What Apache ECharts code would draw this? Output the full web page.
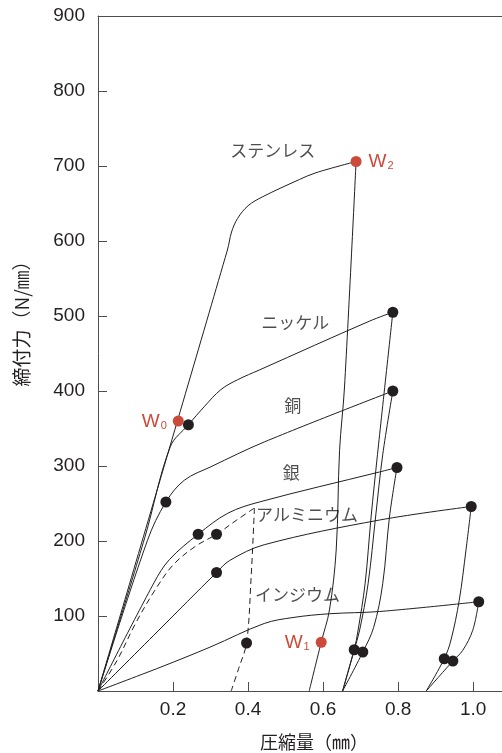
<!DOCTYPE html>
<html>
<head>
<meta charset="utf-8">
<script src="https://cdn.jsdelivr.net/npm/echarts@6/dist/echarts.min.js"></script>
<style>html,body{margin:0;padding:0;background:#fff}#c{width:502px;height:753px}</style>
</head>
<body>
<div id="c"></div>
<script>
// ---- data (x: 圧縮量 mm, y: 締付力 N/mm) ----
const xTicks = [0.2, 0.4, 0.6, 0.8, 1.0];
const yTicks = [100, 200, 300, 400, 500, 600, 700, 800, 900];

const stainlessLoad = [[0,0],[0.345,588],[0.356,612],[0.372,630],[0.4,647],[0.439,659],[0.537,682],[0.581,691],[0.688,706]];
const stainlessUnload = [[0.688,706],[0.657,404],[0.644,321],[0.635,188],[0.617,108],[0.595,65],[0.563,0]];

const nickelLoad = [[0,0],[0.125,205],[0.193,326],[0.241,355],[0.283,379],[0.328,402],[0.372,415],[0.43,428],[0.723,493],[0.786,505]];
const nickelUnload = [[0.786,505],[0.745,315],[0.728,232],[0.712,143],[0.693,80],[0.683,55],[0.652,0]];

const copperLoad = [[0,0],[0.132,201],[0.181,252],[0.23,281],[0.301,299],[0.443,332],[0.786,400]];
const copperUnload = [[0.786,400],[0.759,315],[0.74,232],[0.72,143],[0.697,80],[0.683,55],[0.652,0]];

const silverLoad = [[0,0],[0.15,145],[0.19,175],[0.267,209],[0.346,237],[0.43,252],[0.75,292],[0.797,298]];
const silverUnload = [[0.797,298],[0.777,232],[0.759,143],[0.735,85],[0.706,52],[0.652,0]];

const dashedLoad = [[0,0],[0.05,40],[0.1,90],[0.15,133],[0.2,168],[0.26,193],[0.316,209],[0.37,228],[0.417,244]];
const dashedUnload = [[0.417,244],[0.408,150],[0.396,64],[0.375,30],[0.355,0]];

const aluminumLoad = [[0,0],[0.16,80],[0.316,158],[0.351,174],[0.443,195],[0.751,228],[0.995,246]];
const aluminumUnload = [[0.995,246],[0.981,188],[0.963,121],[0.941,68],[0.923,43],[0.875,0]];

const indiumLoad = [[0,0],[0.168,32],[0.301,59],[0.443,90],[0.52,98],[0.617,103],[0.751,106],[1.015,119]];
const indiumUnload = [[1.015,119],[0.999,81],[0.972,54],[0.946,40],[0.875,0]];

const blackDots = [[0.241,355],[0.786,505],[0.181,252],[0.786,400],[0.267,209],[0.797,298],
  [0.316,209],[0.396,64],[0.316,158],[0.995,246],[1.015,119],
  [0.683,55],[0.706,52],[0.923,43],[0.946,40]];

const redDots = [
  {name:'0', value:[0.214,360], pos:'left'},
  {name:'1', value:[0.595,65], pos:'left'},
  {name:'2', value:[0.688,706], pos:'right'}
];

const materialNames = ['ステンレス','ニッケル','銅','銀','アルミニウム','インジウム'];
const materialLabelPos = [[0.466,721],[0.526,491],[0.519,380],[0.515,291],[0.557,235],[0.532,129]];

// ---- chart ----
const INK = '#231f20';
const AXIS = '#4d4d4d';
const RED = '#cc4a3a';
const JP = '"Noto Sans CJK JP", sans-serif';
const NUM = '"Liberation Sans", Arial, sans-serif';

function curve(data, dashed) {
  return {
    type: 'line', data: data, symbol: 'none', smooth: 0.35, z: 2,
    lineStyle: {color: INK, width: 1, type: dashed ? [6,4] : 'solid'},
    silent: true
  };
}

const chart = echarts.init(document.getElementById('c'), null, {renderer: 'canvas'});
chart.setOption({
  animation: false,
  backgroundColor: '#fff',
  grid: {left: 98, top: 16, right: 0, bottom: 62},
  xAxis: [{
    type: 'value', min: 0, max: 1.077,
    splitLine: {show: false},
    axisLine: {lineStyle: {color: AXIS, width: 1}},
    axisTick: {inside: true, length: 9, lineStyle: {color: AXIS}, customValues: xTicks},
    axisLabel: {customValues: xTicks, color: INK, fontSize: 19, fontFamily: NUM, margin: 9,
      formatter: v => v.toFixed(1)}
  }, {
    type: 'value', min: 0, max: 1.077, position: 'top',
    splitLine: {show: false},
    axisLine: {show: true, lineStyle: {color: AXIS, width: 1}},
    axisTick: {show: false}, axisLabel: {show: false}
  }],
  yAxis: {
    type: 'value', min: 0, max: 900, interval: 100,
    splitLine: {show: false},
    axisLine: {show: true, lineStyle: {color: AXIS, width: 1}},
    axisTick: {show: true, inside: true, length: 9, lineStyle: {color: AXIS}},
    axisLabel: {color: INK, fontSize: 19, fontFamily: NUM, margin: 13,
      formatter: v => (yTicks.indexOf(v) >= 0 ? String(v) : '')}
  },
  graphic: [
    {type: 'text', x: 22, y: 319, rotation: Math.PI / 2,
      style: {text: '締付力（N/㎜）', fill: INK, font: '19px ' + JP, align: 'center', verticalAlign: 'middle'}},
    {type: 'text', x: 314, y: 742,
      style: {text: '圧縮量（㎜）', fill: INK, font: '18px ' + JP, align: 'center', verticalAlign: 'middle'}}
  ],
  series: [
    curve(stainlessLoad), curve(stainlessUnload),
    curve(nickelLoad), curve(nickelUnload),
    curve(copperLoad), curve(copperUnload),
    curve(silverLoad), curve(silverUnload),
    curve(dashedLoad, true), curve(dashedUnload, true),
    curve(aluminumLoad), curve(aluminumUnload),
    curve(indiumLoad), curve(indiumUnload),
    {
      type: 'scatter', data: blackDots, symbolSize: 11, z: 5, silent: true,
      itemStyle: {color: INK, opacity: 1}
    },
    {
      type: 'scatter', symbolSize: 11, z: 6, silent: true,
      itemStyle: {color: RED, opacity: 1},
      data: redDots.map(d => ({
        value: d.value, name: d.name,
        label: {show: true, position: d.pos, distance: d.pos === 'left' ? 6 : 7}
      })),
      label: {
        formatter: p => '{w|W}{s|' + p.name + '}',
        rich: {
          w: {fontSize: 19, fontFamily: NUM, color: RED, lineHeight: 20, verticalAlign: 'bottom'},
          s: {fontSize: 11, fontFamily: NUM, color: RED, lineHeight: 18, verticalAlign: 'bottom', padding: [0,0,0,1]}
        }
      }
    },
    {
      type: 'scatter', symbolSize: 0, z: 7, silent: true,
      data: materialNames.map((n, i) => ({value: materialLabelPos[i], name: n})),
      label: {show: true, position: 'inside', formatter: p => p.name,
        color: INK, fontSize: 17, fontFamily: JP}
    }
  ]
});
</script>
</body>
</html>
